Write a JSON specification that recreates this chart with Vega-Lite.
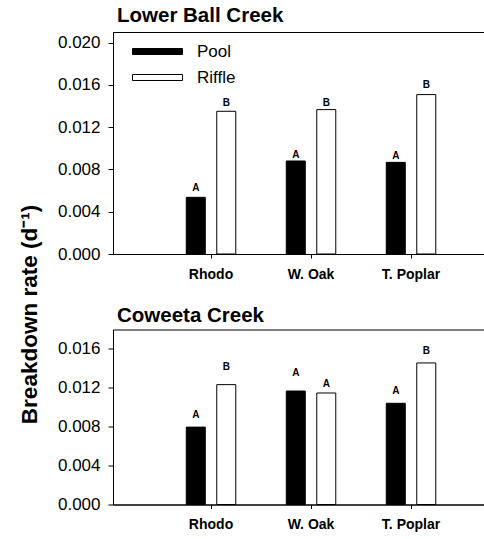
{
  "$schema": "https://vega.github.io/schema/vega-lite/v6.json",
  "padding": {"left": 18, "top": 5, "right": 0, "bottom": 0},
  "background": "white",
  "config": {
    "font": "Liberation Sans",
    "view": {"stroke": "black", "strokeWidth": 1},
    "axis": {"domainColor": "black", "tickColor": "black", "labelColor": "black", "grid": false, "domainWidth": 1, "tickWidth": 1, "labelFont": "Liberation Sans"},
    "legend": {"labelFont": "Liberation Sans"}
  },
  "title": {"text": "Breakdown rate (d⁻¹)", "orient": "left", "anchor": "middle", "fontSize": 22.5, "fontWeight": "bold", "font": "Liberation Sans", "color": "black", "offset": 15, "dx": -46},
  "datasets": {
    "rates": [
      {"creek": "Lower Ball Creek", "species": "Rhodo", "habitat": "Pool", "rate": 0.00536, "letter": "A", "letter_y": 0.00593},
      {"creek": "Lower Ball Creek", "species": "Rhodo", "habitat": "Riffle", "rate": 0.0135, "letter": "B", "letter_y": 0.0140},
      {"creek": "Lower Ball Creek", "species": "W. Oak", "habitat": "Pool", "rate": 0.0088, "letter": "A", "letter_y": 0.00909},
      {"creek": "Lower Ball Creek", "species": "W. Oak", "habitat": "Riffle", "rate": 0.01366, "letter": "B", "letter_y": 0.0140},
      {"creek": "Lower Ball Creek", "species": "T. Poplar", "habitat": "Pool", "rate": 0.00867, "letter": "A", "letter_y": 0.00902},
      {"creek": "Lower Ball Creek", "species": "T. Poplar", "habitat": "Riffle", "rate": 0.01508, "letter": "B", "letter_y": 0.01571},
      {"creek": "Coweeta Creek", "species": "Rhodo", "habitat": "Pool", "rate": 0.00796, "letter": "A", "letter_y": 0.00886},
      {"creek": "Coweeta Creek", "species": "Rhodo", "habitat": "Riffle", "rate": 0.01233, "letter": "B", "letter_y": 0.01384},
      {"creek": "Coweeta Creek", "species": "W. Oak", "habitat": "Pool", "rate": 0.01167, "letter": "A", "letter_y": 0.01326},
      {"creek": "Coweeta Creek", "species": "W. Oak", "habitat": "Riffle", "rate": 0.01147, "letter": "A", "letter_y": 0.01213},
      {"creek": "Coweeta Creek", "species": "T. Poplar", "habitat": "Pool", "rate": 0.01041, "letter": "A", "letter_y": 0.01133},
      {"creek": "Coweeta Creek", "species": "T. Poplar", "habitat": "Riffle", "rate": 0.01456, "letter": "B", "letter_y": 0.01545}
    ]
  },
  "spacing": 23.5,
  "resolve": {"scale": {"x": "independent", "y": "independent", "color": "independent", "fill": "independent"}, "legend": {"fill": "independent"}},
  "vconcat": [
    {
      "title": {"text": "Lower Ball Creek", "anchor": "start", "frame": "group", "fontSize": 20.5, "fontWeight": "bold", "font": "Liberation Sans", "baseline": "alphabetic", "offset": -10, "dx": 4, "color": "black"},
      "width": 372,
      "height": 222,
      "data": {"name": "rates"},
      "transform": [{"filter": "datum.creek === 'Lower Ball Creek'"}],
      "layer": [
        {
          "mark": {"type": "bar", "stroke": "black", "strokeWidth": 1},
          "encoding": {
            "x": {"field": "species", "type": "nominal", "sort": ["Rhodo", "W. Oak", "T. Poplar"], "scale": {"paddingInner": 0, "paddingOuter": 0.36, "align": 0.667},
                  "axis": {"title": null, "labelFontSize": 14, "labelFontWeight": "bold", "labelAngle": 0, "tickSize": 4, "labelPadding": 9}},
            "xOffset": {"field": "habitat", "type": "nominal", "sort": ["Pool", "Riffle"], "scale": {"paddingInner": 0.377, "paddingOuter": 0.828}},
            "y": {"field": "rate", "type": "quantitative", "scale": {"domain": [0, 0.021], "nice": false},
                  "axis": {"title": null, "values": [0, 0.004, 0.008, 0.012, 0.016, 0.02], "format": ".3f", "labelFontSize": 17, "tickSize": 5, "labelPadding": 8, "minExtent": 56, "maxExtent": 56}},
            "fill": {"field": "habitat", "type": "nominal", "scale": {"domain": ["Pool", "Riffle"], "range": ["black", "white"]},
                     "legend": {"title": null, "orient": "none", "legendX": 36, "legendY": 11, "padding": 0, "symbolType": "M-8.333,-1H8.333V1H-8.333Z", "symbolSize": 36, "symbolStrokeColor": "black", "symbolStrokeWidth": 1, "labelFontSize": 17, "labelOffset": 31, "rowPadding": 8, "labelColor": "black"}}
          }
        },
        {
          "mark": {"type": "text", "fontSize": 10, "fontWeight": "bold", "baseline": "alphabetic", "color": "black", "font": "Liberation Sans"},
          "encoding": {
            "x": {"field": "species", "type": "nominal", "sort": ["Rhodo", "W. Oak", "T. Poplar"]},
            "xOffset": {"field": "habitat", "type": "nominal", "sort": ["Pool", "Riffle"]},
            "y": {"field": "letter_y", "type": "quantitative"},
            "text": {"field": "letter"}
          }
        }
      ]
    },
    {
      "title": {"text": "Coweeta Creek", "anchor": "start", "frame": "group", "fontSize": 20.5, "fontWeight": "bold", "font": "Liberation Sans", "baseline": "alphabetic", "offset": -13, "dx": 4, "color": "black"},
      "width": 372,
      "height": 175,
      "data": {"name": "rates"},
      "transform": [{"filter": "datum.creek === 'Coweeta Creek'"}],
      "layer": [
        {
          "mark": {"type": "bar", "stroke": "black", "strokeWidth": 1},
          "encoding": {
            "x": {"field": "species", "type": "nominal", "sort": ["Rhodo", "W. Oak", "T. Poplar"], "scale": {"paddingInner": 0, "paddingOuter": 0.36, "align": 0.667},
                  "axis": {"title": null, "labelFontSize": 14, "labelFontWeight": "bold", "labelAngle": 0, "tickSize": 4, "labelPadding": 9}},
            "xOffset": {"field": "habitat", "type": "nominal", "sort": ["Pool", "Riffle"], "scale": {"paddingInner": 0.377, "paddingOuter": 0.828}},
            "y": {"field": "rate", "type": "quantitative", "scale": {"domain": [0, 0.018], "nice": false},
                  "axis": {"title": null, "values": [0, 0.004, 0.008, 0.012, 0.016], "format": ".3f", "labelFontSize": 17, "tickSize": 5, "labelPadding": 8, "minExtent": 56, "maxExtent": 56}},
            "fill": {"field": "habitat", "type": "nominal", "scale": {"domain": ["Pool", "Riffle"], "range": ["black", "white"]}, "legend": null}
          }
        },
        {
          "mark": {"type": "text", "fontSize": 10, "fontWeight": "bold", "baseline": "alphabetic", "color": "black", "font": "Liberation Sans"},
          "encoding": {
            "x": {"field": "species", "type": "nominal", "sort": ["Rhodo", "W. Oak", "T. Poplar"]},
            "xOffset": {"field": "habitat", "type": "nominal", "sort": ["Pool", "Riffle"]},
            "y": {"field": "letter_y", "type": "quantitative"},
            "text": {"field": "letter"}
          }
        }
      ]
    }
  ]
}
